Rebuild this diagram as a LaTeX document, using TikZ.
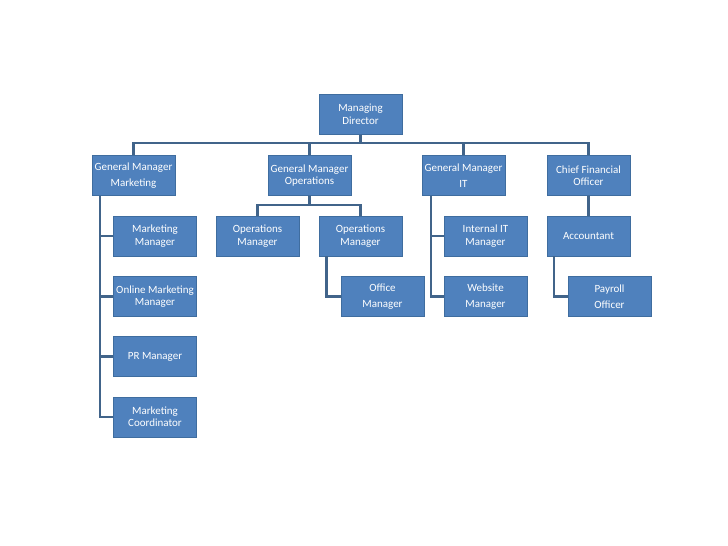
\documentclass[tikz,border=0pt]{standalone}
\usepackage{fontspec}
\setmainfont{Carlito}
\usepackage{xcolor}
\usepackage{tikz}
\usetikzlibrary{calc}

\definecolor{boxblue}{HTML}{4F81BD}
\definecolor{boxedge}{HTML}{3F6D9F}
\definecolor{linkcol}{HTML}{41648A}

\begin{document}
\begin{tikzpicture}[x=1pt,y=-1pt,
    post/.style={rectangle,fill=boxblue,draw=boxedge,line width=0.6pt,text=white,
      minimum width=83pt,minimum height=40pt,inner sep=0pt,align=center,
      font=\fontsize{11}{13.2}\selectfont},
    loose/.style={font=\fontsize{11}{16.5}\selectfont},
    tight/.style={font=\fontsize{11}{12}\selectfont},
    link/.style={draw=linkcol,line width=2.2pt}]
    \useasboundingbox (0,0) rectangle (728,546);
    \def\rA{175.5}\def\rB{236}\def\rC{296.5}\def\rD{356.5}\def\rE{417}
    % Top
    \node[post] (md) at (360.5,114.5) {Managing\\Director};
    % General managers
    \node[post,loose] (gmm) at (133.5,\rA) {General Manager\\Marketing};
    \node[post,tight] (gmo) at (309.5,\rA) {General Manager\\Operations};
    \node[post,loose] (gmit) at (463.5,\rA) {General Manager\\IT};
    \node[post,tight] (cfo) at (588.5,\rA) {Chief Financial\\Officer};
    % Marketing
    \node[post] (mm) at (155,\rB) {Marketing\\Manager};
    \node[post,tight] (omm) at (155,\rC) {Online Marketing\\Manager};
    \node[post] (prm) at (155,\rD) {PR Manager};
    \node[post,tight] (mco) at (155,\rE) {Marketing\\Coordinator};
    % Operations
    \node[post] (opa) at (257.5,\rB) {Operations\\Manager};
    \node[post] (opb) at (360.5,\rB) {Operations\\Manager};
    \node[post,loose] (ofm) at (382.5,\rC) {Office\\Manager};
    % IT
    \node[post] (itm) at (485.5,\rB) {Internal IT\\Manager};
    \node[post,loose] (wsm) at (485.5,\rC) {Website\\Manager};
    % Finance
    \node[post] (acc) at (588.5,\rB) {Accountant};
    \node[post,loose] (pro) at (609.5,\rC) {Payroll\\Officer};
    % Links from the director
    \foreach \g in {gmm,gmo,gmit,cfo}
      \draw[link] (md.south) -- ++(0,8.5) -| (\g.north);
    % Links from operations
    \foreach \o in {opa,opb}
      \draw[link] (gmo.south) -- ++(0,9.5) -| (\o.north);
    % Side rails
    \coordinate (mrail) at ([xshift=-33.5pt]gmm.south);
    \draw[link] (mrail) |- (mco.west);
    \foreach \m in {mm,omm,prm}
      \draw[link] (\m.west) -- (\m.west -| mrail);
    \coordinate (orail) at ([xshift=-34pt]opb.south);
    \draw[link] (orail) |- (ofm.west);
    \coordinate (irail) at ([xshift=-32.5pt]gmit.south);
    \draw[link] (irail) |- (wsm.west);
    \draw[link] (itm.west) -- (itm.west -| irail);
    \coordinate (frail) at ([xshift=-34.5pt]acc.south);
    \draw[link] (frail) |- (pro.west);
    \draw[link] (cfo) -- (acc);
  \end{tikzpicture}
\end{document}
